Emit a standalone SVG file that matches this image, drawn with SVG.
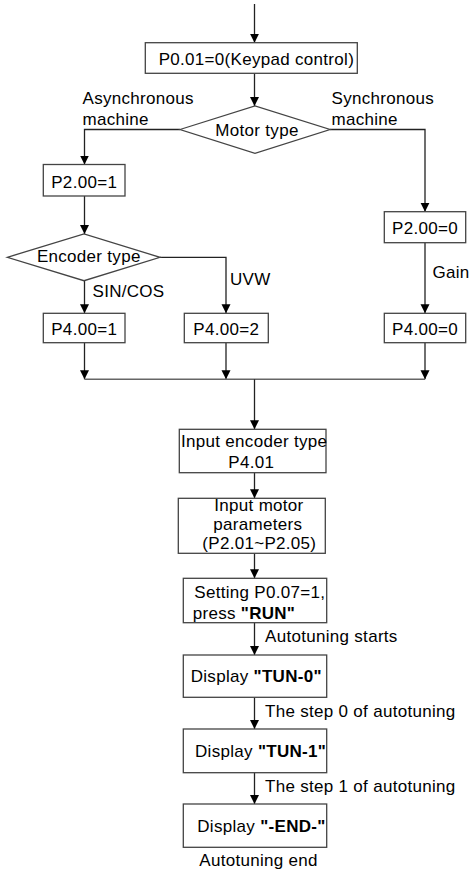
<svg xmlns="http://www.w3.org/2000/svg" width="469" height="871" viewBox="0 0 469 871">
<style>
text{font-family:"Liberation Sans",Arial,sans-serif;font-size:17px;letter-spacing:0.3px;fill:#000}
.b{font-weight:bold}
.box{fill:#fff;stroke:#444;stroke-width:1.3}
.ln{fill:none;stroke:#222;stroke-width:1.3}
.hl{fill:none;stroke:#666;stroke-width:1.6}
</style>
<defs>
<marker id="ah" viewBox="0 0 10 10" refX="10" refY="5" markerWidth="9" markerHeight="12" markerUnits="userSpaceOnUse" orient="auto">
<path d="M0,0 L10,5 L0,10 z" fill="#000"/>
</marker>
</defs>
<g id="connectors">
<path class="ln" d="M254.5,4 V42.7" marker-end="url(#ah)"/>
<path class="ln" d="M254.5,73.3 V106" marker-end="url(#ah)"/>
<path class="ln" d="M180,129.5 H84.5 V164.5" marker-end="url(#ah)"/>
<path class="ln" d="M330,129.5 H425 V211.7" marker-end="url(#ah)"/>
<path class="ln" d="M84.5,196 V234" marker-end="url(#ah)"/>
<path class="ln" d="M84.5,280.7 V313.3" marker-end="url(#ah)"/>
<path class="ln" d="M160,257.3 H226 V313.3" marker-end="url(#ah)"/>
<path class="ln" d="M425,242.7 V313.3" marker-end="url(#ah)"/>
<path class="ln" d="M84.5,342.7 V379.3" marker-end="url(#ah)"/>
<path class="ln" d="M226,342.7 V379.3" marker-end="url(#ah)"/>
<path class="ln" d="M425,342.7 V379.3" marker-end="url(#ah)"/>
<path class="hl" d="M84.5,379.3 H425"/>
<path class="ln" d="M254.5,379.3 V429.3" marker-end="url(#ah)"/>
<path class="ln" d="M254.5,472.7 V498.3" marker-end="url(#ah)"/>
<path class="ln" d="M254.5,553.3 V578.3" marker-end="url(#ah)"/>
<path class="ln" d="M254.5,622.7 V655" marker-end="url(#ah)"/>
<path class="ln" d="M254.5,697.3 V729" marker-end="url(#ah)"/>
<path class="ln" d="M254.5,772.7 V804" marker-end="url(#ah)"/>
<text x="82.5" y="104.3">Asynchronous</text>
<text x="82.5" y="125">machine</text>
<text x="331.5" y="104.3">Synchronous</text>
<text x="331.5" y="125">machine</text>
<text x="92.5" y="296.7">SIN/COS</text>
<text x="230" y="285">UVW</text>
<text x="432.5" y="278.3">Gain</text>
<text x="265" y="641.7">Autotuning starts</text>
<text x="265" y="716.7">The step 0 of autotuning</text>
<text x="265" y="791.7">The step 1 of autotuning</text>
<text x="199.3" y="866">Autotuning end</text>
</g>
<g id="n_keypad">
<rect class="box" x="145.3" y="42.7" width="212" height="30.6"/>
<text x="158.7" y="65">P0.01=0(Keypad control)</text>
</g>
<g id="n_motortype">
<polygon class="box" points="180,129.5 255,106 330,129.5 255,153.3"/>
<text x="257" y="135.5" text-anchor="middle">Motor type</text>
</g>
<g id="n_p200_1">
<rect class="box" x="43.3" y="164.5" width="81.7" height="31.5"/>
<text x="84.2" y="187.7" text-anchor="middle">P2.00=1</text>
</g>
<g id="n_encodertype">
<polygon class="box" points="7.3,257.3 84,234 160,257.3 84,280.7"/>
<text x="88.8" y="261.7" text-anchor="middle">Encoder type</text>
</g>
<g id="n_p200_0">
<rect class="box" x="384.3" y="211.7" width="81.4" height="31"/>
<text x="425" y="234" text-anchor="middle">P2.00=0</text>
</g>
<g id="n_p400_1">
<rect class="box" x="43.3" y="313.3" width="81.7" height="29.4"/>
<text x="84.2" y="334.7" text-anchor="middle">P4.00=1</text>
</g>
<g id="n_p400_2">
<rect class="box" x="184.3" y="313.3" width="84" height="29.4"/>
<text x="226.3" y="334.7" text-anchor="middle">P4.00=2</text>
</g>
<g id="n_p400_0">
<rect class="box" x="384.3" y="313.3" width="81.4" height="29.4"/>
<text x="425" y="334.7" text-anchor="middle">P4.00=0</text>
</g>
<g id="n_encinput">
<rect class="box" x="179.3" y="429.3" width="146.7" height="43.4"/>
<text x="181" y="446.7">Input encoder type</text>
<text x="228.3" y="468.3">P4.01</text>
</g>
<g id="n_motorparams">
<rect class="box" x="178.3" y="498.3" width="147" height="55"/>
<text x="214.3" y="510.7">Input motor</text>
<text x="213.3" y="530">parameters</text>
<text x="202.3" y="549.3">(P2.01~P2.05)</text>
</g>
<g id="n_setting">
<rect class="box" x="183.3" y="578.3" width="143.4" height="44.4"/>
<text x="194.3" y="598.3">Setting P0.07=1,</text>
<text x="192.7" y="619.3">press <tspan class="b">"RUN"</tspan></text>
</g>
<g id="n_tun0">
<rect class="box" x="183.3" y="655" width="143.4" height="42.3"/>
<text x="190.7" y="681.7">Display <tspan class="b">"TUN-0"</tspan></text>
</g>
<g id="n_tun1">
<rect class="box" x="183.3" y="729" width="143.4" height="43.7"/>
<text x="195" y="756.7">Display <tspan class="b">"TUN-1"</tspan></text>
</g>
<g id="n_end">
<rect class="box" x="183.3" y="804" width="143.4" height="43.3"/>
<text x="197.3" y="831.7">Display <tspan class="b">"-END-"</tspan></text>
</g>
</svg>
